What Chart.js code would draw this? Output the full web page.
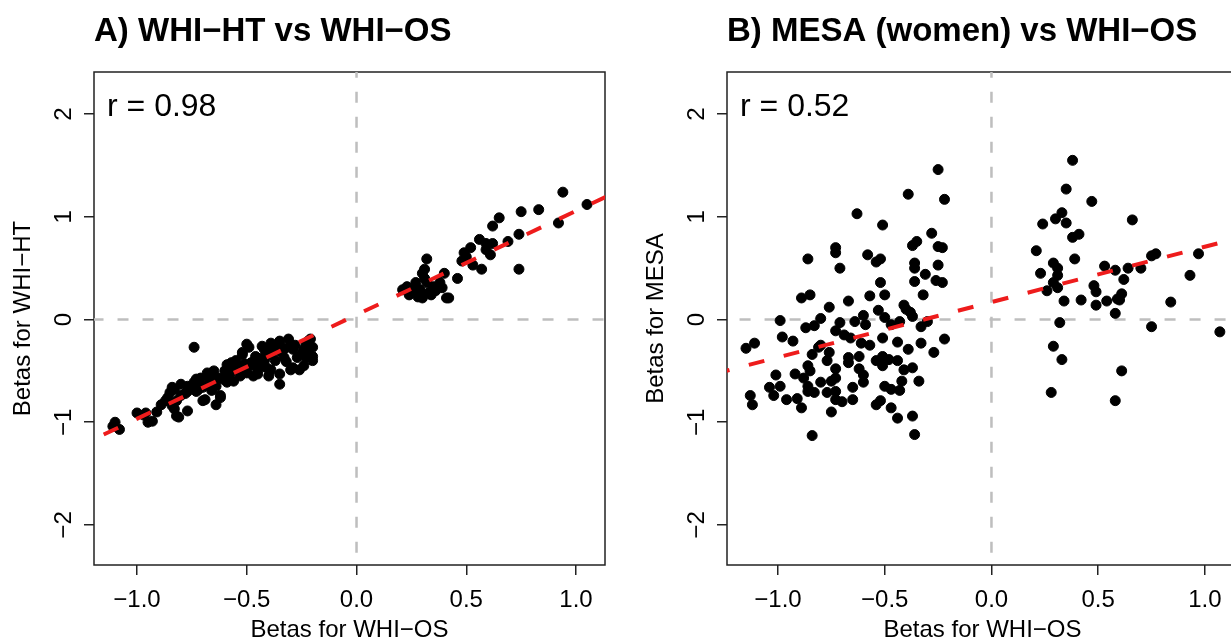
<!DOCTYPE html>
<html><head><meta charset="utf-8">
<script src="https://cdn.jsdelivr.net/npm/chart.js@4"></script>
<style>
html,body{margin:0;padding:0;background:#fff;overflow:hidden;width:1231px;height:643px;}
#wrap{position:relative;width:1231px;height:643px;overflow:hidden;background:#fff;}
.panel{position:absolute;top:0;width:615px;height:643px;}
#pa{left:0}
#pb{left:633px}
</style></head><body>
<div id="wrap">
<div class="panel" id="pa"><canvas id="ca" width="615" height="643"></canvas></div>
<div class="panel" id="pb"><canvas id="cb" width="615" height="643"></canvas></div>
</div>
<script>
// ---------- data ----------
const xTickValues = [-1, -0.5, 0, 0.5, 1];
const xTickLabels = ['\u22121.0', '\u22120.5', '0.0', '0.5', '1.0'];
const yTickValues = [-2, -1, 0, 1, 2];
const yTickLabels = ['\u22122', '\u22121', '0', '1', '2'];

const titleA = 'A) WHI\u2212HT vs WHI\u2212OS';
const titleB = 'B) MESA (women) vs WHI\u2212OS';
const xLabel = 'Betas for WHI\u2212OS';
const yLabelA = 'Betas for WHI\u2212HT';
const yLabelB = 'Betas for MESA';
const rLabelA = 'r = 0.98';
const rLabelB = 'r = 0.52';

// Panel A points (WHI-OS beta, WHI-HT beta)
const aX = [-1.11,-1.08,-1.10,-1.00,-0.96,-0.95,-0.93,-0.97,-0.89,-0.87,-0.85,-0.83,-0.84,-0.81,-0.82,-0.84,-0.83,-0.82,-0.80,-0.77,
 -0.80,-0.77,-0.77,-0.74,-0.74,-0.73,-0.71,-0.70,-0.68,-0.68,-0.66,-0.69,-0.70,-0.64,-0.64,-0.62,-0.62,-0.65,-0.73,-0.71,
 -0.61,-0.59,-0.58,-0.57,-0.55,-0.52,-0.50,-0.49,-0.52,-0.59,-0.58,-0.56,-0.55,-0.52,-0.50,-0.59,-0.56,-0.53,-0.50,-0.47,
 -0.45,-0.44,-0.42,-0.43,-0.42,-0.41,-0.47,-0.45,-0.42,-0.41,-0.39,-0.36,-0.35,-0.31,-0.33,-0.30,-0.29,-0.27,-0.24,-0.22,
 -0.20,-0.23,-0.20,-0.26,-0.30,-0.35,-0.35,-0.39,-0.40,-0.39,-0.35,-0.33,-0.29,-0.24,-0.23,-0.21,-0.20,-0.22,-0.78,-0.75,
 -0.67,-0.63,-0.60,-0.54,-0.48,-0.46,-0.38,-0.34,-0.28,-0.25,-0.32,-0.37,-0.44,-0.51,-0.57,-0.66,-0.72,-0.86,-0.91,
 0.21,0.23,0.24,0.27,0.29,0.30,0.30,0.31,0.32,0.33,0.34,0.35,0.38,0.39,0.40,0.42,0.46,0.48,0.49,0.50,
 0.52,0.53,0.57,0.56,0.59,0.59,0.61,0.62,0.62,0.65,0.69,0.74,0.74,0.75,0.83,0.92,0.94,1.05,0.25,0.28,
 0.32,0.27,0.36,0.41,0.29,0.31];
const aY = [-1.04,-1.07,-1.00,-0.91,-0.91,-1.00,-0.99,-0.93,-0.83,-0.79,-0.71,-0.68,-0.66,-0.95,-0.94,-0.84,-0.87,-0.79,-0.63,-0.65,
 -0.74,-0.89,-0.70,-0.27,-0.61,-0.58,-0.63,-0.66,-0.55,-0.52,-0.58,-0.78,-0.79,-0.65,-0.83,-0.76,-0.74,-0.50,-0.70,-0.57,
 -0.58,-0.55,-0.52,-0.42,-0.49,-0.49,-0.24,-0.27,-0.32,-0.44,-0.58,-0.47,-0.40,-0.34,-0.50,-0.61,-0.60,-0.55,-0.52,-0.55,
 -0.49,-0.45,-0.39,-0.26,-0.29,-0.32,-0.44,-0.53,-0.40,-0.47,-0.23,-0.24,-0.21,-0.19,-0.29,-0.24,-0.29,-0.37,-0.29,-0.21,
 -0.27,-0.37,-0.40,-0.49,-0.49,-0.53,-0.63,-0.49,-0.55,-0.34,-0.31,-0.37,-0.47,-0.45,-0.24,-0.19,-0.36,-0.31,-0.72,-0.66,
 -0.62,-0.57,-0.50,-0.46,-0.42,-0.36,-0.30,-0.27,-0.25,-0.33,-0.41,-0.40,-0.38,-0.43,-0.51,-0.69,-0.68,-0.76,-0.90,
 0.29,0.32,0.24,0.31,0.29,0.21,0.45,0.49,0.59,0.26,0.24,0.32,0.36,0.31,0.45,0.21,0.40,0.57,0.65,0.61,
 0.70,0.53,0.49,0.78,0.74,0.68,0.63,0.74,0.91,0.99,0.76,0.83,0.49,1.05,1.07,0.94,1.24,1.12,0.27,0.22,
 0.36,0.36,0.28,0.21,0.25,0.40];

// Panel B points (WHI-OS beta, MESA beta)
const bX = [-0.25,-0.39,-0.22,-0.63,-0.51,-0.28,-0.37,-0.35,-0.25,-0.23,-0.73,-0.73,-0.86,-0.58,-0.54,-0.52,-0.71,-0.36,-0.36,-0.25,
 -0.31,-0.36,-0.26,-0.23,-0.52,-0.57,-0.50,-0.32,-0.89,-0.85,-0.67,-0.76,-0.53,-0.41,-0.40,-0.38,-0.37,-0.80,-0.99,-0.60,
 -0.50,-0.71,-0.64,-0.59,-0.43,-0.30,-0.87,-0.83,-0.47,-0.33,
 -1.15,-1.11,-0.98,-0.93,-0.81,-0.84,-0.80,-0.76,-0.77,-0.73,-0.69,-0.66,-0.67,-0.67,-0.61,-0.57,-0.62,-0.62,-0.60,-0.60,
 -0.73,-0.54,-0.51,-0.51,-0.51,-0.50,-0.48,-0.44,-0.44,-0.42,-0.41,-0.39,-0.37,-0.33,-0.27,-0.22,-0.34,-1.01,-1.04,-0.99,
 -1.02,-1.13,-1.12,-0.96,-0.91,-0.89,-0.92,-0.88,-0.86,-0.85,-0.86,-0.86,-0.83,-0.80,-0.77,-0.75,-0.73,-0.73,-0.73,-0.70,
 -0.75,-0.65,-0.65,-0.84,-0.54,-0.47,-0.47,-0.43,-0.44,-0.37,-0.36,-0.52,
 0.38,0.35,0.47,0.24,0.30,0.33,0.35,0.66,0.38,0.41,0.21,0.39,0.29,0.31,0.23,0.31,0.53,0.58,0.64,0.70,
 0.75,0.77,0.97,0.93,0.62,0.29,0.26,0.31,0.48,0.49,0.34,0.42,0.49,0.54,0.59,0.61,0.60,0.58,0.84,0.32,
 0.75,1.07,0.29,0.33,0.61,0.28,0.58];
const bY = [1.46,1.22,1.17,1.03,0.92,0.84,0.72,0.76,0.71,0.70,0.70,0.65,0.59,0.63,0.56,0.59,0.50,0.55,0.50,0.53,
 0.44,0.37,0.38,0.36,0.36,0.23,0.24,0.24,0.21,0.24,0.18,0.12,0.09,0.14,0.10,0.07,0.03,0.01,-0.01,0.04,
 0.02,-0.03,-0.02,-0.05,-0.02,-0.02,-0.08,-0.06,-0.05,-0.07,
 -0.28,-0.23,-0.17,-0.21,-0.27,-0.34,-0.25,-0.32,-0.40,-0.11,-0.15,-0.18,-0.37,-0.42,-0.23,-0.25,-0.36,-0.48,-0.54,-0.61,
 -0.48,-0.40,-0.36,-0.45,-0.18,-0.65,-0.39,-0.22,-0.40,-0.60,-0.49,-0.29,-0.47,-0.23,-0.32,-0.19,-0.60,-0.54,-0.66,-0.65,
 -0.74,-0.74,-0.83,-0.78,-0.77,-0.86,-0.53,-0.57,-0.45,-0.50,-0.65,-0.70,-0.71,-0.61,-0.71,-0.60,-0.57,-0.70,-0.78,-0.80,
 -0.90,-0.78,-0.66,-1.13,-0.83,-0.86,-0.68,-0.69,-0.96,-0.94,-1.12,-0.79,
 1.55,1.27,1.15,0.93,0.98,1.04,0.94,0.97,0.80,0.83,0.67,0.59,0.55,0.50,0.45,0.43,0.52,0.48,0.50,0.50,
 0.62,0.64,0.64,0.43,0.39,0.36,0.28,0.31,0.33,0.27,0.18,0.19,0.14,0.18,0.20,0.25,0.19,0.06,0.17,-0.03,
 -0.07,-0.12,-0.26,-0.39,-0.50,-0.71,-0.79];

// regression lines (end points)
const fitA_X = [-1.3, 1.2];
const fitA_Y = [-1.27, 1.26];
const fitB_X = [-1.3, 1.3];
const fitB_Y = [-0.53, 0.87];

// zero reference lines
const refV_X = [0, 0], refV_Y = [-3, 3];
const refH_X = [-2, 2], refH_Y = [0, 0];

// axis ranges
const yRange = [-2.39, 2.41];
const xRangeA = [-1.196, 1.132];
const xRangeB = [-1.239, 1.155];

// ---------- chart ----------
const FONT = "'Liberation Sans', Arial, Helvetica, sans-serif";
Chart.defaults.font.family = FONT;
Chart.defaults.color = '#000';

const toPts = (xs, ys) => xs.map((x, i) => ({x: x, y: ys[i]}));

const boxPlugin = {
  id: 'rbox',
  beforeDatasetsDraw(chart) {
    const {ctx, chartArea: a} = chart;
    ctx.save();
    ctx.strokeStyle = '#222';
    ctx.lineWidth = 1.5;
    ctx.strokeRect(a.left, a.top, a.right - a.left, a.bottom - a.top);
    ctx.restore();
  },
  afterDraw(chart) {
    const {ctx, chartArea: a} = chart;
    const txt = chart.options.plugins.rbox.text;
    ctx.save();
    ctx.fillStyle = '#000';
    ctx.font = '32px ' + FONT;
    ctx.textAlign = 'left';
    ctx.textBaseline = 'alphabetic';
    ctx.fillText(txt, a.left + 13, a.top + 44);
    ctx.restore();
  }
};

function build(id, o) {
  return new Chart(document.getElementById(id), {
    type: 'scatter',
    data: {
      datasets: [
        {type: 'line', data: toPts(o.fitX, o.fitY), borderColor: '#ee1c1c', borderWidth: 4,
         borderDash: [16, 20], pointRadius: 0, fill: false, order: 0, clip: 0},
        {type: 'scatter', data: toPts(o.xs, o.ys), backgroundColor: '#000', borderColor: '#000',
         borderWidth: 1, pointRadius: 5, order: 1},
        {type: 'line', data: toPts(refV_X, refV_Y), borderColor: '#bebebe', borderWidth: 2.5,
         borderDash: [11, 14], pointRadius: 0, fill: false, order: 2, clip: 0},
        {type: 'line', data: toPts(refH_X, refH_Y), borderColor: '#bebebe', borderWidth: 2.5,
         borderDash: [11, 14], pointRadius: 0, fill: false, order: 2, clip: 0}
      ]
    },
    options: {
      responsive: false, animation: false, devicePixelRatio: 1,
      layout: {padding: {right: 10}},
      events: [],
      plugins: {
        legend: {display: false},
        tooltip: {enabled: false},
        rbox: {text: o.rText},
        title: {display: true, text: o.title, align: 'start', fullSize: false, color: '#000',
                font: {family: FONT, size: 33, weight: 'bold', lineHeight: 1},
                padding: {top: 15, bottom: 24}}
      },
      scales: {
        x: {
          type: 'linear', position: 'bottom', min: o.xRange[0], max: o.xRange[1],
          afterBuildTicks: s => { s.ticks = xTickValues.map(v => ({value: v})); },
          afterFit: s => { s.height = 78; },
          border: {display: false},
          grid: {drawOnChartArea: false, drawTicks: true, tickLength: 10, color: '#222', lineWidth: 1.5},
          ticks: {autoSkip: false, maxRotation: 0, minRotation: 0, padding: 11, color: '#000',
                  font: {family: FONT, size: 24},
                  callback: (v, i) => xTickLabels[i]},
          title: {display: true, text: xLabel, color: '#000', font: {family: FONT, size: 24, lineHeight: 1},
                  padding: {top: 0, bottom: 1}}
        },
        y: {
          type: 'linear', position: 'left', min: yRange[0], max: yRange[1],
          afterBuildTicks: s => { s.ticks = yTickValues.map(v => ({value: v})); },
          afterFit: s => { s.width = 94; },
          border: {display: false},
          grid: {drawOnChartArea: false, drawTicks: true, tickLength: 10, color: '#222', lineWidth: 1.5},
          ticks: {autoSkip: false, minRotation: 90, maxRotation: 90, crossAlign: 'center', padding: 6,
                  color: '#000', font: {family: FONT, size: 24},
                  callback: (v, i) => yTickLabels[i]},
          title: {display: true, text: o.yLabel, color: '#000', font: {family: FONT, size: 24, lineHeight: 1},
                  padding: {top: 11, bottom: 0}}
        }
      }
    },
    plugins: [boxPlugin]
  });
}

build('ca', {xs: aX, ys: aY, fitX: fitA_X, fitY: fitA_Y, xRange: xRangeA, title: titleA, yLabel: yLabelA, rText: rLabelA});
build('cb', {xs: bX, ys: bY, fitX: fitB_X, fitY: fitB_Y, xRange: xRangeB, title: titleB, yLabel: yLabelB, rText: rLabelB});
</script>
</body></html>
